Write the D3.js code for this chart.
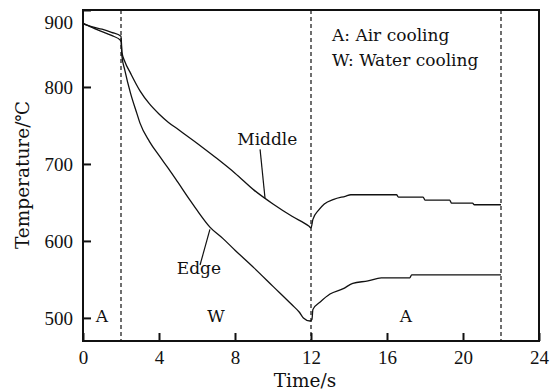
<!DOCTYPE html>
<html lang="en">
<head>
  <meta charset="UTF-8">
  <title>Temperature vs time</title>
  <script src="https://d3js.org/d3.v7.min.js"></script>
  <style>
    body { margin: 0; background: #fff; }
    text { fill: #111; }
    .tick-label { font-family: "Liberation Serif", serif; font-size: 19px; }
    .lbl { font-family: "DejaVu Serif", serif; font-size: 17px; }
    .title { font-family: "DejaVu Serif", serif; font-size: 18.5px; }
  </style>
</head>
<body>
  <div id="chart"></div>
  <script>
    // [time (s), temperature (°C)]
    const middleTemps = [
      [0, 882], [0.5, 878], [1, 875], [1.5, 871], [2, 866], [2.05, 845], [2.2, 833],
      [2.5, 818], [3, 795], [3.5, 778], [4, 765], [4.5, 754], [5, 745], [6, 727],
      [7, 708], [8, 688], [9, 666], [10, 648], [11, 632], [11.9, 619], [12, 617],
      [12.1, 628], [12.4, 640], [12.7, 648], [13.2, 654], [13.8, 658], [14.1, 660],
      [16.5, 660], [16.6, 657], [17.9, 657], [18, 653], [19.3, 653], [19.4, 649],
      [20.5, 649], [20.6, 647], [22, 647]
    ];
    const edgeTemps = [
      [0, 883], [0.5, 877], [1, 872], [1.5, 867], [2, 860], [2.05, 840], [2.2, 822],
      [2.5, 792], [2.83, 766], [3, 753], [3.5, 729], [4, 711], [4.5, 694], [5, 676],
      [5.63, 653], [6, 640], [6.68, 618], [7.37, 603], [8, 588], [9, 565], [10, 541],
      [11, 517], [11.4, 507], [11.6, 500], [11.95, 496], [12.05, 498], [12.1, 511],
      [12.5, 521], [13, 531], [13.7, 538], [14.2, 545], [15, 548], [15.7, 552],
      [17.2, 552], [17.3, 556], [22, 556]
    ];
    const phaseBounds = [2, 12, 22];
    const phaseLabels = [{t: 1, text: "A"}, {t: 7, text: "W"}, {t: 17, text: "A"}];
    const xTicks = [0, 4, 8, 12, 16, 20, 24];
    const yTicks = [500, 600, 700, 800, 900];
    const legendLines = ["A: Air cooling", "W: Water cooling"];

    const width = 556, height = 391;
    const margin = {top: 10, right: 17, bottom: 50, left: 83};

    const x = d3.scaleLinear().domain([0, 24]).range([margin.left, width - margin.right]);
    const y = d3.scaleLinear().domain([470, 900]).range([height - margin.bottom, margin.top]);

    const svg = d3.select("#chart").append("svg")
      .attr("width", width)
      .attr("height", height);

    // phase boundaries
    svg.selectAll("line.phase")
      .data(phaseBounds)
      .join("line")
      .attr("class", "phase")
      .attr("x1", d => x(d)).attr("x2", d => x(d))
      .attr("y1", y.range()[1]).attr("y2", y.range()[0])
      .attr("stroke", "#222")
      .attr("stroke-width", 1.3)
      .attr("stroke-dasharray", "4,3");

    const line = d3.line()
      .x(d => x(d[0]))
      .y(d => y(d[1]))
      .curve(d3.curveMonotoneX);

    svg.selectAll("path.series")
      .data([middleTemps, edgeTemps])
      .join("path")
      .attr("class", "series")
      .attr("d", line)
      .attr("fill", "none")
      .attr("stroke", "#111")
      .attr("stroke-width", 1.3);

    // axes, ticks pointing inward
    const xAxis = svg.append("g")
      .attr("transform", "translate(0," + y.range()[0] + ")")
      .call(d3.axisBottom(x).tickValues(xTicks).tickSizeInner(-8).tickSizeOuter(0).tickPadding(8));
    const yAxis = svg.append("g")
      .attr("transform", "translate(" + x.range()[0] + ",0)")
      .call(d3.axisLeft(y).tickValues(yTicks).tickSizeInner(-8).tickSizeOuter(0).tickPadding(10));

    [xAxis, yAxis].forEach(g => {
      g.select(".domain").remove();
      g.selectAll(".tick line").attr("stroke", "#111").attr("stroke-width", 2);
      g.selectAll(".tick text").attr("class", "tick-label").attr("font-family", null).attr("font-size", null);
    });
    xAxis.selectAll(".tick text").attr("dy", "0.8em");
    yAxis.selectAll(".tick text").attr("dy", d => d === 900 ? "0.95em" : "0.35em");

    svg.append("rect")
      .attr("x", x.range()[0]).attr("y", y.range()[1])
      .attr("width", x.range()[1] - x.range()[0])
      .attr("height", y.range()[0] - y.range()[1])
      .attr("fill", "none")
      .attr("stroke", "#111")
      .attr("stroke-width", 2);

    // axis titles
    svg.append("text")
      .attr("class", "title")
      .attr("x", 305)
      .attr("y", 387)
      .attr("text-anchor", "middle")
      .text("Time/s");

    svg.append("text")
      .attr("class", "title")
      .attr("transform", "translate(29,175) rotate(-90)")
      .attr("text-anchor", "middle")
      .text("Temperature/℃");

    // phase letters
    svg.selectAll("text.phase")
      .data(phaseLabels)
      .join("text")
      .attr("class", "lbl phase")
      .attr("x", d => x(d.t))
      .attr("y", 322)
      .attr("text-anchor", "middle")
      .text(d => d.text);

    // legend note
    svg.selectAll("text.note")
      .data(legendLines)
      .join("text")
      .attr("class", "lbl note")
      .attr("x", 332)
      .attr("y", (d, i) => 41 + i * 25)
      .text(d => d);

    // curve labels with leader lines
    svg.append("text").attr("class", "lbl")
      .attr("x", x(9.7)).attr("y", 145)
      .attr("text-anchor", "middle")
      .text("Middle");
    svg.append("line")
      .attr("x1", x(9.32)).attr("y1", y(719))
      .attr("x2", x(9.58)).attr("y2", y(655.5))
      .attr("stroke", "#111").attr("stroke-width", 1.2);

    svg.append("text").attr("class", "lbl")
      .attr("x", x(6.1)).attr("y", 274)
      .attr("text-anchor", "middle")
      .text("Edge");
    svg.append("line")
      .attr("x1", x(6.16)).attr("y1", y(568.7))
      .attr("x2", x(6.68)).attr("y2", y(615))
      .attr("stroke", "#111").attr("stroke-width", 1.2);
  </script>
</body>
</html>
